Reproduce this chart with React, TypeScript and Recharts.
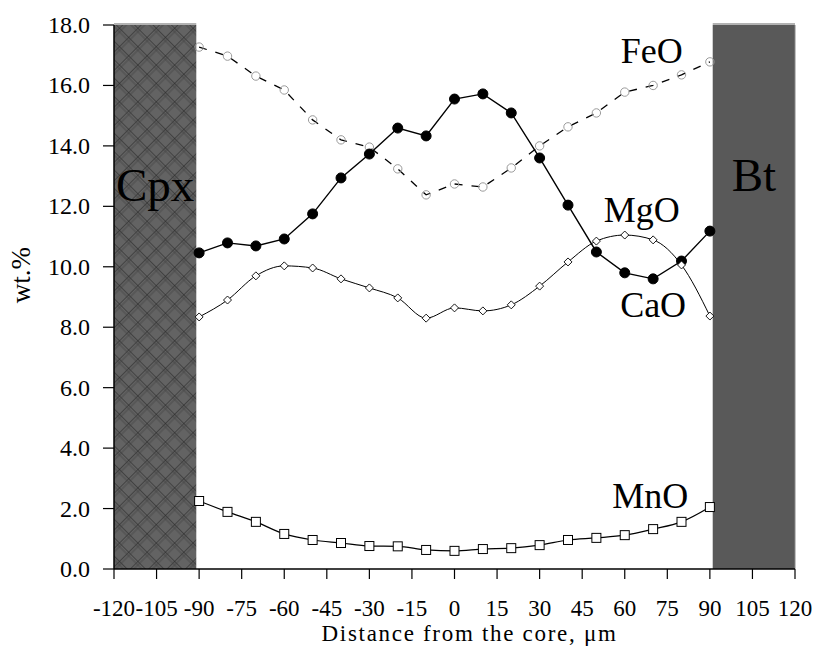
import React from 'react';
import { LineChart, Line, XAxis, YAxis, ReferenceArea, ReferenceDot, Label } from 'recharts';

const distance = [-90, -80, -70, -60, -50, -40, -30, -20, -10, 0, 10, 20, 30, 40, 50, 60, 70, 80, 90];
const feo = [17.27, 16.97, 16.31, 15.85, 14.86, 14.2, 13.96, 13.24, 12.38, 12.74, 12.64, 13.27, 14.0, 14.63, 15.09, 15.78, 16.0, 16.35, 16.78];
const cao = [10.46, 10.79, 10.69, 10.92, 11.75, 12.94, 13.73, 14.59, 14.33, 15.55, 15.72, 15.09, 13.6, 12.04, 10.49, 9.8, 9.6, 10.19, 11.18];
const mgo = [8.34, 8.9, 9.7, 10.03, 9.96, 9.6, 9.3, 8.97, 8.3, 8.64, 8.54, 8.74, 9.36, 10.16, 10.85, 11.05, 10.89, 10.06, 8.37];
const mno = [2.25, 1.89, 1.56, 1.16, 0.96, 0.86, 0.76, 0.75, 0.63, 0.6, 0.66, 0.69, 0.79, 0.96, 1.03, 1.12, 1.32, 1.56, 2.05];
const xTicks = [-120, -105, -90, -75, -60, -45, -30, -15, 0, 15, 30, 45, 60, 75, 90, 105, 120];
const yTicks = [0, 2, 4, 6, 8, 10, 12, 14, 16, 18];
const zones = [
  { name: 'Cpx', from: -120, to: -91 },
  { name: 'Bt', from: 91, to: 120 },
];
const oxideLabels = [
  { name: 'FeO', x: 69.5, y: 17.15 },
  { name: 'MgO', x: 66, y: 11.9 },
  { name: 'CaO', x: 70, y: 8.75 },
  { name: 'MnO', x: 69, y: 2.45 },
];

const data = distance.map((d, i) => ({ d, feo: feo[i], cao: cao[i], mgo: mgo[i], mno: mno[i] }));

const FONT = '"Liberation Serif", "Times New Roman", Times, serif';

const HatchRect = (props: any) => {
  const { x, y, width, height } = props;
  return (
    <g>
      <defs>
        <pattern id="cpxHatch" patternUnits="userSpaceOnUse" width="13" height="13" patternTransform="rotate(45)">
          <rect x="0" y="0" width="13" height="13" fill="#636363" />
          <line x1="0" y1="0" x2="0" y2="13" stroke="#262626" strokeWidth="1.1" />
          <line x1="0" y1="0" x2="13" y2="0" stroke="#262626" strokeWidth="1.1" />
          <line x1="3" y1="0" x2="3" y2="13" stroke="#3a3a3a" strokeWidth="0.6" />
          <line x1="0" y1="3" x2="13" y2="3" stroke="#3a3a3a" strokeWidth="0.6" />
        </pattern>
      </defs>
      <rect x={x} y={y} width={width} height={height} fill="url(#cpxHatch)" />
      <line x1={x} y1={y - 1} x2={x + width} y2={y - 1} stroke="#999" strokeWidth={1.5} />
    </g>
  );
};

const SolidRect = (props: any) => {
  const { x, y, width, height } = props;
  return (
    <g>
      <rect x={x} y={y} width={width} height={height} fill="#595959" />
      <line x1={x} y1={y - 1} x2={x + width} y2={y - 1} stroke="#999" strokeWidth={1.5} />
      <line x1={x + width} y1={y} x2={x + width} y2={y + height} stroke="#888" strokeWidth={1} />
    </g>
  );
};

const OpenCircle = (props: any) => {
  const { cx, cy } = props;
  if (cx == null || cy == null) return null;
  return <circle cx={cx} cy={cy} r={4.2} fill="none" stroke="#9a9a9a" strokeWidth={1} />;
};

const FilledCircle = (props: any) => {
  const { cx, cy } = props;
  if (cx == null || cy == null) return null;
  return <circle cx={cx} cy={cy} r={5} fill="#000" stroke="#000" />;
};

const Diamond = (props: any) => {
  const { cx, cy } = props;
  if (cx == null || cy == null) return null;
  const s = 4;
  return (
    <polygon
      points={`${cx},${cy - s} ${cx + s},${cy} ${cx},${cy + s} ${cx - s},${cy}`}
      fill="#fff"
      stroke="#000"
      strokeWidth={0.9}
    />
  );
};

const Square = (props: any) => {
  const { cx, cy } = props;
  if (cx == null || cy == null) return null;
  const s = 4.5;
  return <rect x={cx - s} y={cy - s} width={2 * s} height={2 * s} fill="#fff" stroke="#000" strokeWidth={1} />;
};

const XTick = (props: any) => {
  const { x, y, payload } = props;
  return (
    <text x={x} y={y + 35} textAnchor="middle" fontSize={23} fill="#000" style={{ fontFamily: FONT }}>
      {String(payload.value)}
    </text>
  );
};

const YTick = (props: any) => {
  const { x, y, payload } = props;
  return (
    <text x={x - 11} y={y + 8} textAnchor="end" fontSize={24} fill="#000" style={{ fontFamily: FONT }}>
      {Number(payload.value).toFixed(1)}
    </text>
  );
};

export default function App() {
  return (
    <div style={{ position: 'absolute', left: 0, top: 0, width: 815, height: 647, background: '#fff', fontFamily: FONT }}>
      <style>{`svg text { font-family: "Liberation Serif", "Times New Roman", Times, serif !important; }`}</style>
      <LineChart width={815} height={647} data={data} margin={{ top: 25, right: 20, bottom: 18, left: 54 }}>
        <XAxis
          dataKey="d"
          type="number"
          domain={[-120, 120]}
          ticks={xTicks}
          interval={0}
          allowDataOverflow
          axisLine={{ stroke: '#000', strokeWidth: 1.5 }}
          tickLine={{ stroke: '#000', strokeWidth: 1.2 }}
          tickSize={10}
          height={60}
          tick={<XTick />}
        >
          <Label
            content={(p: any) => {
              const vb = p.viewBox || {};
              return (
                <text x={vb.x + vb.width / 2 + 15} y={641} textAnchor="middle" fontSize={23} letterSpacing={1.7} fill="#000" style={{ fontFamily: FONT }}>
                  Distance from the core, μm
                </text>
              );
            }}
          />
        </XAxis>
        <YAxis
          type="number"
          domain={[0, 18]}
          ticks={yTicks}
          interval={0}
          allowDataOverflow
          width={60}
          axisLine={{ stroke: '#000', strokeWidth: 1.5 }}
          tickLine={{ stroke: '#000', strokeWidth: 1.2 }}
          tickSize={11}
          tick={<YTick />}
        >
          <Label
            content={() => (
              <text x={0} y={0} transform="translate(30,275) rotate(-90)" textAnchor="middle" fontSize={27} fill="#000" style={{ fontFamily: FONT }}>
                wt.%
              </text>
            )}
          />
        </YAxis>
        <ReferenceArea
          x1={zones[0].from}
          x2={zones[0].to}
          y1={0}
          y2={18}
          shape={<HatchRect />}
          ifOverflow="visible"
          label={{ value: zones[0].name, position: 'insideTop', offset: 143, fontSize: 47, fontFamily: FONT, fill: '#000' }}
        />
        <ReferenceArea
          x1={zones[1].from}
          x2={zones[1].to}
          y1={0}
          y2={18}
          shape={<SolidRect />}
          ifOverflow="visible"
          label={{ value: zones[1].name, position: 'insideTop', offset: 133, fontSize: 47, fontFamily: FONT, fill: '#000' }}
        />
        <Line
          dataKey="feo"
          type="linear"
          stroke="#000"
          strokeWidth={1.3}
          strokeDasharray="8 9"
          dot={<OpenCircle />}
          activeDot={false}
          isAnimationActive={false}
        />
        <Line
          dataKey="cao"
          type="linear"
          stroke="#000"
          strokeWidth={1.4}
          dot={<FilledCircle />}
          activeDot={false}
          isAnimationActive={false}
        />
        <Line
          dataKey="mgo"
          type="monotone"
          stroke="#000"
          strokeWidth={1}
          dot={<Diamond />}
          activeDot={false}
          isAnimationActive={false}
        />
        <Line
          dataKey="mno"
          type="monotone"
          stroke="#000"
          strokeWidth={1.2}
          dot={<Square />}
          activeDot={false}
          isAnimationActive={false}
        />
        {oxideLabels.map((l) => (
          <ReferenceDot
            key={l.name}
            x={l.x}
            y={l.y}
            r={0}
            fill="none"
            stroke="none"
            ifOverflow="visible"
            label={{ value: l.name, position: 'center', fontSize: 36, fontFamily: FONT, fill: '#000' }}
          />
        ))}
      </LineChart>
    </div>
  );
}
